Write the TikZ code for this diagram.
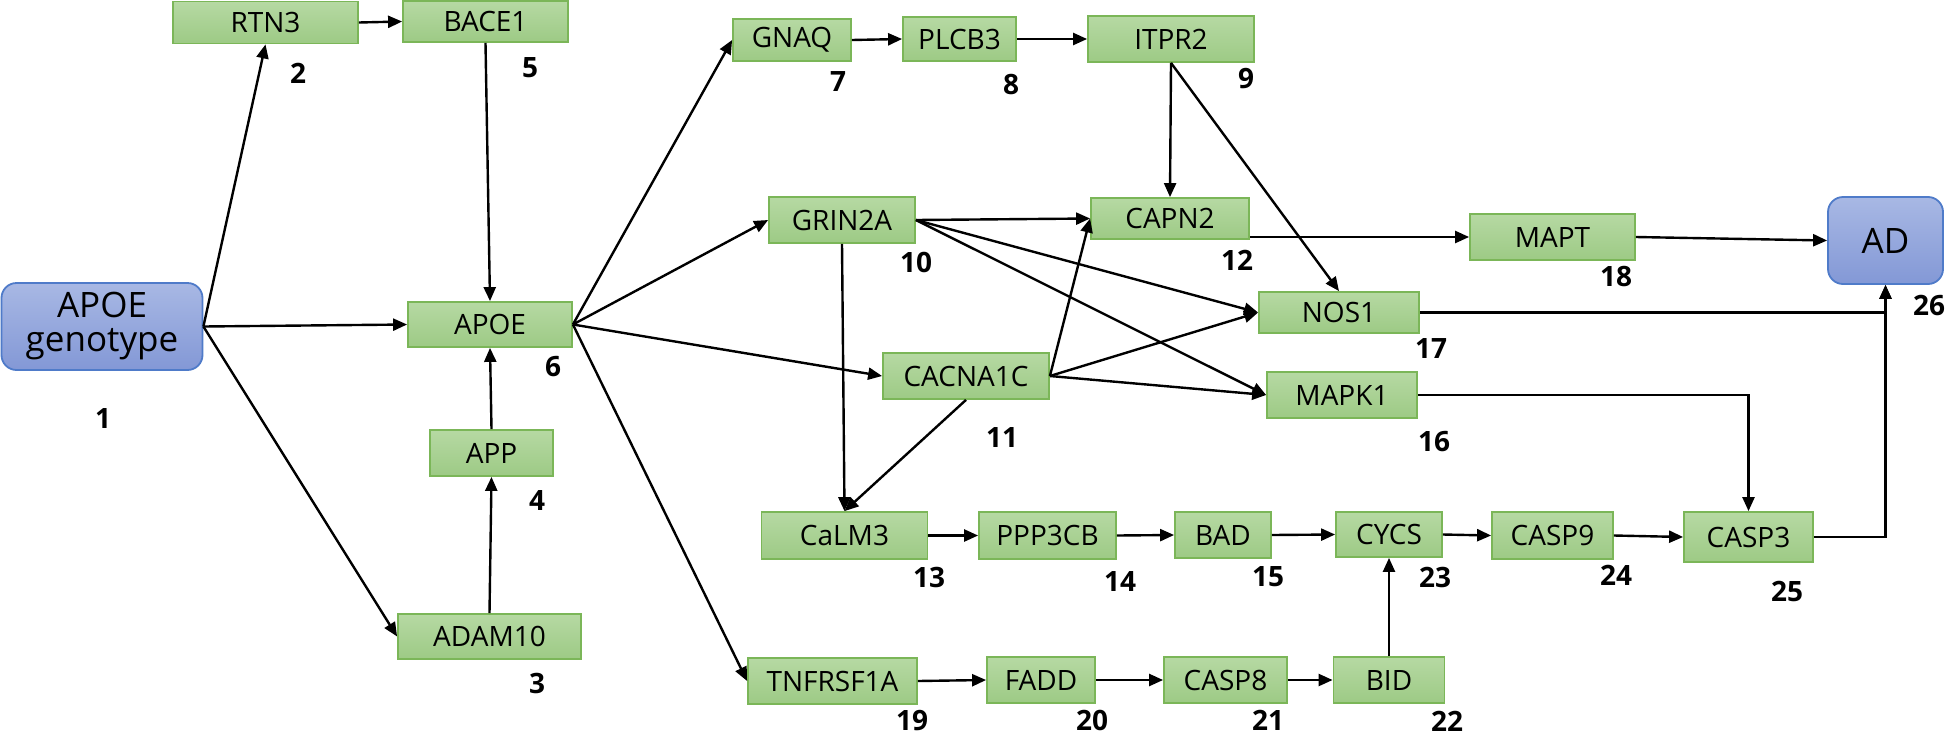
\documentclass[tikz,border=0pt]{standalone}
\usepackage{fontspec}
\setmainfont{Open Sans}
\usetikzlibrary{arrows.meta}
\definecolor{gtop}{HTML}{B6D9A3}
\definecolor{gbot}{HTML}{9DCA85}
\definecolor{gline}{HTML}{7BB658}
\definecolor{btop}{HTML}{A8B8E4}
\definecolor{bbot}{HTML}{8398D6}
\definecolor{bline}{HTML}{4F7BC9}
\tikzset{
  gbox/.style={draw=gline, line width=1.8pt, top color=gtop, bottom color=gbot, inner sep=0pt,
    font=\fontsize{28}{30}\selectfont},
  bbox/.style={draw=bline, line width=1.8pt, top color=btop, bottom color=bbot, inner sep=0pt,
    rounded corners=15pt, align=center, font=\fontsize{35}{40}\selectfont},
  lab/.style={font=\fontsize{28}{30}\selectfont\bfseries, inner sep=0pt},
  arr/.style={-{Triangle[length=14pt,width=12pt]}, line width=2.4pt, black},
}
\begin{document}
\begin{tikzpicture}[x=1pt,y=-1pt]
\useasboundingbox (0,0) rectangle (1946,737);
\fill[white] (0,0) rectangle (1946,737);
% nodes
\node[bbox, minimum width=201pt, minimum height=87pt] (gen) at (102,326.5) {APOE\\[-6pt]genotype};
\node[gbox, minimum width=185pt, minimum height=42pt] (rtn3) at (265.5,22.5) {RTN3};
\node[gbox, minimum width=165pt, minimum height=41pt] (bace1) at (485.5,21.5) {BACE1};
\node[gbox, minimum width=164pt, minimum height=45pt] (apoe) at (490,324.5) {APOE};
\node[gbox, minimum width=123pt, minimum height=46pt] (app) at (491.5,453) {APP};
\node[gbox, minimum width=183pt, minimum height=45pt] (adam10) at (489.5,636.5) {ADAM10};
\node[gbox, minimum width=118pt, minimum height=42pt] (gnaq) at (792,40) {GNAQ};
\node[gbox, minimum width=113pt, minimum height=44pt] (plcb3) at (959.5,39) {PLCB3};
\node[gbox, minimum width=166pt, minimum height=46pt] (itpr2) at (1171,39) {ITPR2};
\node[gbox, minimum width=146pt, minimum height=46pt] (grin2a) at (842,220) {GRIN2A};
\node[gbox, minimum width=158pt, minimum height=41pt] (capn2) at (1170,218.5) {CAPN2};
\node[gbox, minimum width=165pt, minimum height=46pt] (mapt) at (1552.5,237) {MAPT};
\node[bbox, minimum width=115pt, minimum height=87pt] (ad) at (1885.5,240.5) {AD};
\node[gbox, minimum width=160pt, minimum height=41pt] (nos1) at (1339,312.5) {NOS1};
\node[gbox, minimum width=166pt, minimum height=46pt] (cacna1c) at (966,376) {CACNA1C};
\node[gbox, minimum width=150pt, minimum height=46pt] (mapk1) at (1342,395) {MAPK1};
\node[gbox, minimum width=166pt, minimum height=47pt] (calm3) at (844.5,535.5) {CaLM3};
\node[gbox, minimum width=137pt, minimum height=47pt] (ppp3cb) at (1047.5,535.5) {PPP3CB};
\node[gbox, minimum width=96pt, minimum height=46pt] (bad) at (1223,535) {BAD};
\node[gbox, minimum width=106pt, minimum height=45pt] (cycs) at (1389,534.5) {CYCS};
\node[gbox, minimum width=121pt, minimum height=47pt] (casp9) at (1552.5,535.5) {CASP9};
\node[gbox, minimum width=129pt, minimum height=50pt] (casp3) at (1748.5,537) {CASP3};
\node[gbox, minimum width=169pt, minimum height=46pt] (tnf) at (832.5,681) {TNFRSF1A};
\node[gbox, minimum width=108pt, minimum height=46pt] (fadd) at (1041,680) {FADD};
\node[gbox, minimum width=123pt, minimum height=46pt] (casp8) at (1225.5,680) {CASP8};
\node[gbox, minimum width=111pt, minimum height=46pt] (bid) at (1389,680) {BID};
% labels
\node[lab] (l1) at (103,418) {1};
\node[lab] (l2) at (298,73) {2};
\node[lab] (l3) at (537,683) {3};
\node[lab] (l4) at (537,500) {4};
\node[lab] (l5) at (530,68) {5};
\node[lab] (l6) at (553,367) {6};
\node[lab] (l7) at (838,82) {7};
\node[lab] (l8) at (1011,85) {8};
\node[lab] (l9) at (1246,79) {9};
\node[lab] (l10) at (916,262) {10};
\node[lab] (l11) at (1002,437) {11};
\node[lab] (l12) at (1237,260) {12};
\node[lab] (l13) at (929,577) {13};
\node[lab] (l14) at (1120,581) {14};
\node[lab] (l15) at (1268,577) {15};
\node[lab] (l16) at (1434,442) {16};
\node[lab] (l17) at (1431,348) {17};
\node[lab] (l18) at (1616,277) {18};
\node[lab] (l19) at (912,721) {19};
\node[lab] (l20) at (1092,720) {20};
\node[lab] (l21) at (1268,720) {21};
\node[lab] (l22) at (1447,721) {22};
\node[lab] (l23) at (1435,577) {23};
\node[lab] (l24) at (1616,575) {24};
\node[lab] (l25) at (1787,591) {25};
\node[lab] (l26) at (1929,305) {26};
% edges
\draw[arr] (gen.east) -- (rtn3.south);
\draw[arr] (gen.east) -- (apoe.west);
\draw[arr] (gen.east) -- (adam10.west);
\draw[arr] (rtn3.east) -- (bace1.west);
\draw[arr] (bace1.south) -- (apoe.north);
\draw[arr] (app.north) -- (apoe.south);
\draw[arr] (adam10.north) -- (app.south);
\draw[arr] (apoe.east) -- (gnaq.west);
\draw[arr] (apoe.east) -- (grin2a.west);
\draw[arr] (apoe.east) -- (cacna1c.west);
\draw[arr] (apoe.east) -- (tnf.west);
\draw[arr] (gnaq.east) -- (plcb3.west);
\draw[arr] (plcb3.east) -- (itpr2.west);
\draw[arr] (itpr2.south) -- (capn2.north);
\draw[arr] (itpr2.south) -- (nos1.north);
\draw[arr] (grin2a.east) -- (capn2.west);
\draw[arr] (grin2a.east) -- (nos1.west);
\draw[arr] (grin2a.east) -- (mapk1.west);
\draw[arr] (grin2a.south) -- (calm3.north);
\draw[arr] (cacna1c.east) -- (capn2.west);
\draw[arr] (cacna1c.east) -- (nos1.west);
\draw[arr] (cacna1c.east) -- (mapk1.west);
\draw[arr] (cacna1c.south) -- (calm3.north);
\draw[arr] (capn2.east |- mapt.west) -- (mapt.west);
\draw[arr] (mapt.east) -- (ad.west);
\draw[arr] (nos1.east) -| (ad.south);
\draw[arr] (mapk1.east) -| (casp3.north);
\draw[arr] (casp3.east) -| (ad.south);
\draw[arr] (calm3.east) -- (ppp3cb.west);
\draw[arr] (ppp3cb.east) -- (bad.west);
\draw[arr] (bad.east) -- (cycs.west);
\draw[arr] (cycs.east) -- (casp9.west);
\draw[arr] (casp9.east) -- (casp3.west);
\draw[arr] (tnf.east) -- (fadd.west);
\draw[arr] (fadd.east) -- (casp8.west);
\draw[arr] (casp8.east) -- (bid.west);
\draw[arr] (bid.north) -- (cycs.south);
\end{tikzpicture}
\end{document}
